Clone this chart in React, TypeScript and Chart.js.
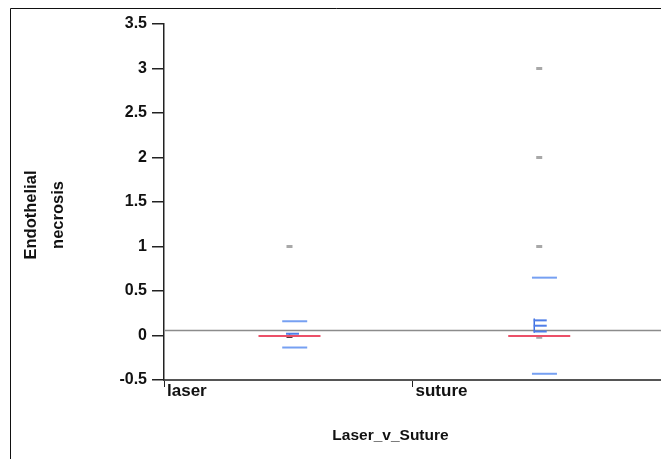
import React, { useEffect, useRef } from 'react';
import { Chart, registerables } from 'chart.js';

Chart.register(...registerables);

const categories = ['laser', 'suture'];
const categoryX = [0.505, 1.51];
const pointValues = [[1, -0.01], [3, 2, 1, -0.02]];
const medianValues = [-0.005, -0.005];
const outerBlue = [[0.16, -0.135], [0.65, -0.43]];
const innerBlue = [[0.02], [0.17, 0.11, 0.045]];
const whiskerBlue = [[0.02, 0.0], [0.19, 0.03]];
const referenceValue = 0.056;
const yTicks = [-0.5, 0, 0.5, 1, 1.5, 2, 2.5, 3, 3.5];
const yTitle = ['Endothelial', 'necrosis'];
const xTitle = 'Laser_v_Suture';

const FONT = '"Liberation Sans", Arial, sans-serif';
const AREA = { left: 164, top: 24, right: 661, bottom: 380 };

const decorPlugin = {
  id: 'decor',
  afterLayout(chart: any) {
    const { left, top, right, bottom } = AREA;
    chart.chartArea = { left, top, right, bottom, width: right - left, height: bottom - top };
    const x = chart.scales.x;
    const y = chart.scales.y;
    x.left = left; x.right = right; x.width = right - left;
    x.top = bottom; x.bottom = 459; x.height = 459 - bottom;
    x.configure();
    y.top = top; y.bottom = bottom; y.height = bottom - top;
    y.left = 0; y.right = left; y.width = left;
    y.configure();
  },
  afterDraw(chart: any) {
    const ctx = chart.ctx;
    const area = chart.chartArea;
    ctx.save();
    ctx.strokeStyle = '#111';
    ctx.lineWidth = 1;
    ctx.beginPath();
    ctx.moveTo(10.5, 470);
    ctx.lineTo(10.5, 8.5);
    ctx.lineTo(700, 8.5);
    ctx.stroke();
    ctx.fillStyle = '#111';
    ctx.font = 'bold 16.5px ' + FONT;
    ctx.textAlign = 'center';
    ctx.textBaseline = 'alphabetic';
    const cy = (area.top + area.bottom) / 2 + 13;
    yTitle.forEach((t, i) => {
      ctx.save();
      ctx.translate(36 + i * 27, cy);
      ctx.rotate(-Math.PI / 2);
      ctx.fillText(t, 0, 0);
      ctx.restore();
    });
    ctx.font = 'bold 15.5px ' + FONT;
    ctx.fillText(xTitle, 390.5, 440);
    ctx.restore();
  },
};

export default function App() {
  const ref = useRef<HTMLCanvasElement | null>(null);
  useEffect(() => {
    if (!ref.current) return;
    const flat = (arr: number[][], dx: number) =>
      arr.flatMap((vals, i) => vals.map((v) => ({ x: categoryX[i] + dx, y: v })));
    const pointColors = pointValues.flatMap((vals, i) =>
      vals.map((v) => (i === 0 && v < 0.5 ? '#3a2020' : '#a8a8a8'))
    );
    const datasets: any[] = [
      {
        type: 'line',
        data: [{ x: 0, y: referenceValue }, { x: 2, y: referenceValue }],
        borderColor: '#8c8c8c',
        borderWidth: 1.5,
        pointRadius: 0,
        order: 10,
      },
      {
        data: flat(pointValues, 0),
        pointStyle: 'line',
        pointRadius: 3,
        pointBorderWidth: 3,
        pointBorderColor: pointColors,
        borderColor: pointColors,
        order: 9,
      },
      {
        data: flat(outerBlue, 0.021),
        pointStyle: 'line',
        pointRadius: 12.5,
        pointBorderWidth: 2,
        borderColor: '#76a0f2',
        pointBorderColor: '#76a0f2',
        order: 7,
      },
      {
        data: [
          ...innerBlue[0].map((v) => ({ x: categoryX[0] + 0.012, y: v })),
          ...innerBlue[1].map((v) => ({ x: categoryX[1] + 0.004, y: v })),
        ],
        pointStyle: 'line',
        pointRadius: 6.5,
        pointBorderWidth: 2,
        borderColor: '#4f7ee8',
        pointBorderColor: '#4f7ee8',
        order: 6,
      },
      ...whiskerBlue.map((vals, i) => ({
        type: 'line',
        data: vals.map((v) => ({ x: categoryX[i] + (i === 0 ? 0 : -0.02), y: v })),
        borderColor: '#3e6fe0',
        borderWidth: 1.5,
        pointRadius: 0,
        order: 6,
      })),
      {
        data: medianValues.map((v, i) => ({ x: categoryX[i], y: v })),
        pointStyle: 'line',
        pointRadius: 31,
        pointBorderWidth: 2,
        borderColor: '#ec5068',
        pointBorderColor: '#ec5068',
        order: 5,
      },
    ];
    const chart = new Chart(ref.current, {
      type: 'scatter',
      data: { datasets },
      options: {
        animation: false,
        responsive: false,
        events: [],
        layout: { padding: { top: 24, right: 0, left: 0, bottom: 0 } },
        plugins: { legend: { display: false }, tooltip: { enabled: false } },
        scales: {
          x: {
            type: 'linear',
            min: 0,
            max: 2,
            afterFit: (s: any) => { s.height = 79; },
            afterBuildTicks: (s: any) => { s.ticks = categories.map((_, i) => ({ value: i })); },
            ticks: {
              callback: (v: any) => categories[v] ?? '',
              align: 'start',
              labelOffset: 3,
              padding: -6,
              color: '#111',
              font: { family: FONT, size: 17, weight: 'bold' },
              maxRotation: 0,
              autoSkip: false,
            },
            grid: { drawOnChartArea: false, drawTicks: true, tickLength: 7, color: '#222', lineWidth: 1 },
            border: { display: true, color: '#555', width: 2 },
          },
          y: {
            type: 'linear',
            min: -0.5,
            max: 3.5,
            afterFit: (s: any) => { s.width = 164; },
            afterBuildTicks: (s: any) => { s.ticks = yTicks.map((v) => ({ value: v })); },
            ticks: {
              color: '#111',
              padding: 5,
              font: { family: FONT, size: 16, weight: 'bold' },
              callback: (v: any) => String(v),
            },
            grid: { drawOnChartArea: false, drawTicks: true, tickLength: 12, color: '#222', lineWidth: 1.5 },
            border: { display: true, color: '#222', width: 1.5 },
          },
        },
      },
      plugins: [decorPlugin],
    } as any);
    return () => chart.destroy();
  }, []);
  return (
    <div style={{ position: 'fixed', left: 0, top: 0, width: 661, height: 459, background: '#fff' }}>
      <canvas ref={ref} width={661} height={459} />
    </div>
  );
}
